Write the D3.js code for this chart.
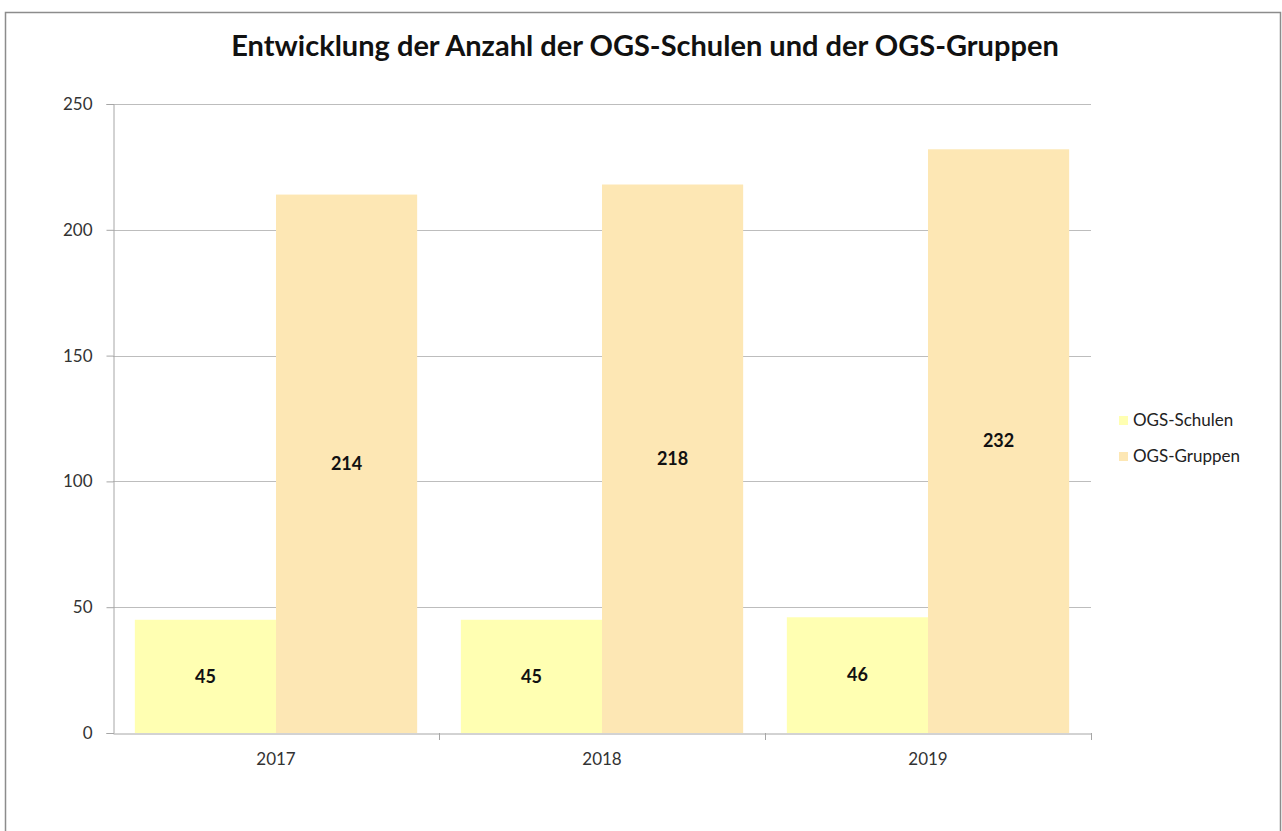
<!DOCTYPE html>
<html>
<head>
<meta charset="utf-8">
<script src="https://cdn.jsdelivr.net/npm/d3@7"></script>
<style>
  body { margin: 0; background: #fff; }
  svg { display: block; font-family: Lato, "Open Sans", sans-serif; }
</style>
</head>
<body>
<div id="chart"></div>
<script>
const years = ["2017", "2018", "2019"];
const seriesNames = ["OGS-Schulen", "OGS-Gruppen"];
const schulen = [45, 45, 46];
const gruppen = [214, 218, 232];
const yTicks = [0, 50, 100, 150, 200, 250];
const colors = ["#FFFFB2", "#FDE7B4"];

const width = 1282, height = 831;
const margin = { top: 104, right: 191, bottom: 98, left: 113 };

const svg = d3.select("#chart").append("svg")
  .attr("width", width)
  .attr("height", height);

// outer frame (bottom edge is off the picture)
svg.append("path")
  .attr("d", `M5.5,${height + 2} V12.5 H1280.5 V${height + 2}`)
  .attr("fill", "none")
  .attr("stroke", "#8c8c8c")
  .attr("stroke-width", 1.5);

svg.append("text")
  .attr("x", 645)
  .attr("y", 56)
  .attr("text-anchor", "middle")
  .attr("font-size", 29)
  .attr("font-weight", "bold")
  .attr("fill", "#111")
  .text("Entwicklung der Anzahl der OGS-Schulen und der OGS-Gruppen");

const x0 = d3.scaleBand().domain(years).range([margin.left, width - margin.right]);
const pad = x0.bandwidth() * 0.067;
const x1 = d3.scaleBand().domain(seriesNames).range([pad, x0.bandwidth() - pad]);
const y = d3.scaleLinear().domain([0, 250]).range([height - margin.bottom, margin.top]);

// grid lines
svg.append("g")
  .selectAll("line")
  .data(yTicks.filter(d => d > 0))
  .join("line")
  .attr("x1", margin.left)
  .attr("x2", width - margin.right)
  .attr("y1", d => Math.round(y(d)) + 0.5)
  .attr("y2", d => Math.round(y(d)) + 0.5)
  .attr("stroke", "#bdbdbd");

const rows = years.map((yr, i) => ({ year: yr, values: [schulen[i], gruppen[i]] }));

const groups = svg.append("g")
  .selectAll("g")
  .data(rows)
  .join("g")
  .attr("transform", d => `translate(${x0(d.year)},0)`);

groups.selectAll("rect")
  .data(d => d.values.map((v, k) => ({ key: seriesNames[k], value: v, k })))
  .join("rect")
  .attr("x", d => x1(d.key))
  .attr("y", d => y(d.value))
  .attr("width", x1.bandwidth())
  .attr("height", d => y(0) - y(d.value))
  .attr("fill", d => colors[d.k]);

groups.selectAll("text")
  .data(d => d.values.map((v, k) => ({ key: seriesNames[k], value: v })))
  .join("text")
  .attr("x", d => x1(d.key) + x1.bandwidth() / 2)
  .attr("y", d => (y(d.value) + y(0)) / 2)
  .attr("dy", "0.35em")
  .attr("text-anchor", "middle")
  .attr("font-size", 18)
  .attr("font-weight", "bold")
  .attr("fill", "#111")
  .text(d => d.value);

// y axis
const yAxis = svg.append("g")
  .attr("transform", `translate(${margin.left + 0.5},0)`)
  .call(d3.axisLeft(y).tickValues(yTicks).tickSize(7).tickPadding(14));
yAxis.select(".domain").attr("stroke", "#a6a6a6");
yAxis.selectAll(".tick line").attr("stroke", "#a6a6a6");
yAxis.selectAll(".tick text").attr("font-size", 17).attr("fill", "#333")
  .attr("font-family", "Lato, sans-serif");

// x axis
const xAxis = svg.append("g")
  .attr("transform", `translate(0,${Math.round(y(0)) + 0.5})`)
  .call(d3.axisBottom(x0).tickSize(0).tickPadding(19));
xAxis.select(".domain").attr("stroke", "#a6a6a6");
xAxis.selectAll(".tick text").attr("font-size", 17).attr("fill", "#333")
  .attr("font-family", "Lato, sans-serif");

// category separator ticks
svg.append("g")
  .selectAll("line")
  .data(years.slice(1).concat(["end"]))
  .join("line")
  .attr("x1", (d, i) => Math.round(i < years.length - 1 ? x0(d) : x0(years[years.length - 1]) + x0.bandwidth()) + 0.5)
  .attr("x2", (d, i) => Math.round(i < years.length - 1 ? x0(d) : x0(years[years.length - 1]) + x0.bandwidth()) + 0.5)
  .attr("y1", y(0))
  .attr("y2", y(0) + 7)
  .attr("stroke", "#a6a6a6");

// legend
const legend = svg.append("g")
  .attr("transform", "translate(1119,420)")
  .selectAll("g")
  .data(seriesNames)
  .join("g")
  .attr("transform", (d, i) => `translate(0,${i * 36})`);

legend.append("rect")
  .attr("x", 0).attr("y", -4)
  .attr("width", 9).attr("height", 9)
  .attr("fill", (d, i) => colors[i]);

legend.append("text")
  .attr("x", 14)
  .attr("y", 0)
  .attr("dy", "0.35em")
  .attr("font-size", 17)
  .attr("fill", "#222")
  .text(d => d);
</script>
</body>
</html>
